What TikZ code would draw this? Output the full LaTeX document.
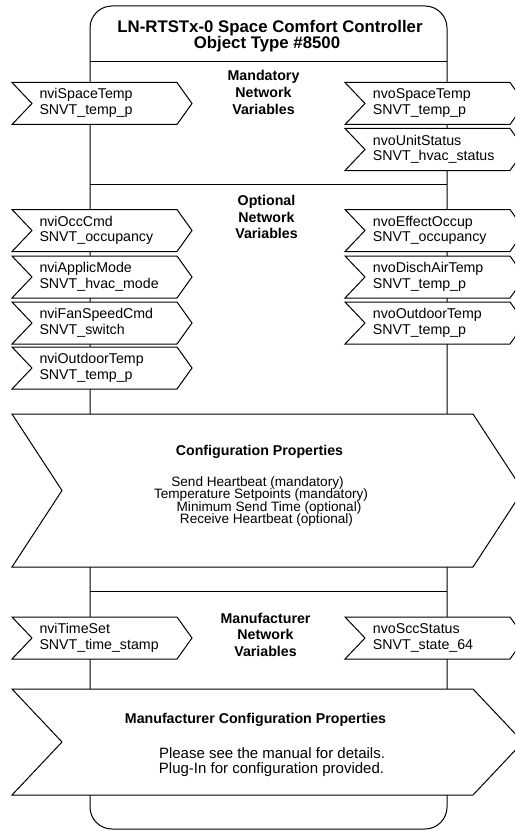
\documentclass[tikz,border=0pt]{standalone}
\usepackage{fontspec}
\setmainfont{Liberation Sans}
\usetikzlibrary{calc}
\newcommand\leftchev[1]{%
  \filldraw[chev] (12,#1) -- (177,#1) -- (192,#1+21) -- (177,#1+42) -- (12,#1+42) -- (32,#1+21) -- cycle;}
\newcommand\rightchev[1]{%
  \filldraw[chev] (345,#1) -- (510,#1) -- (525,#1+21) -- (510,#1+42) -- (345,#1+42) -- (365,#1+21) -- cycle;}
\newcommand\chevtext[5]{% name, x, top, line1, line2
  \node[lbl] (#1a) at (#2,#3+16.5) {#4};
  \node[lbl] (#1b) at (#2,#3+32) {#5};}
\begin{document}
\begin{tikzpicture}[x=1pt,y=-1pt,
  outline/.style={draw=black,line width=1pt},
  chev/.style={draw=black,line width=1pt,fill=white,line join=miter},
  lbl/.style={anchor=base west,inner sep=0pt,font=\fontsize{14.2}{15}\selectfont},
  hdr/.style={anchor=base,inner sep=0pt,font=\fontsize{14.2}{16}\selectfont\bfseries},
  ttl/.style={anchor=base,inner sep=0pt,font=\fontsize{16.8}{17}\selectfont\bfseries},
  cfg/.style={anchor=base,inner sep=0pt,font=\fontsize{13.6}{13}\selectfont},
  mcfg/.style={anchor=base,inner sep=0pt,font=\fontsize{15}{15}\selectfont},
]
\useasboundingbox (0,0) rectangle (515,832);
\begin{scope}
\clip (0,0) rectangle (515,832);
% main object box
\draw[outline,rounded corners=22pt] (90,6) rectangle (447,829);
% section separators
\coordinate (s1l) at (90,62);  \coordinate (s1r) at (447,62);
\coordinate (s2l) at (90,184); \coordinate (s2r) at (447,184);
\coordinate (s3l) at (90,591); \coordinate (s3r) at (447,591);
\draw[outline] (s1l) -- (s1r);
\draw[outline] (s2l) -- (s2r);
\draw[outline] (s3l) -- (s3r);
% big configuration chevrons
\filldraw[chev] (12,414) -- (473,414) -- (523,490.5) -- (473,567) -- (12,567) -- (62,490.5) -- cycle;
\filldraw[chev] (12,689) -- (473,689) -- (523,742) -- (473,795) -- (12,795) -- (62,742) -- cycle;
% small chevrons (inputs left, outputs right)
\leftchev{82.5}
\leftchev{209.5}
\leftchev{256}
\leftchev{302}
\leftchev{347}
\leftchev{617}
\rightchev{82.5}
\rightchev{128.5}
\rightchev{209.5}
\rightchev{256}
\rightchev{302}
\rightchev{617}
\end{scope}
% title
\node[ttl] (title1) at (270,32.3) {LN-RTSTx-0 Space Comfort Controller};
\node[ttl] (title2) at (267,49) {Object Type \#8500};
% section headers
\node[hdr] (mand1) at (263.5,81) {Mandatory};
\node[hdr] (mand2) at (263.5,98) {Network};
\node[hdr] (mand3) at (263.5,115) {Variables};
\node[hdr] (opt1) at (266.5,205) {Optional};
\node[hdr] (opt2) at (266.5,222) {Network};
\node[hdr] (opt3) at (266.5,238.5) {Variables};
\node[hdr] (mfr1) at (265.5,623) {Manufacturer};
\node[hdr] (mfr2) at (265.5,639.5) {Network};
\node[hdr] (mfr3) at (265.5,656) {Variables};
% chevron labels
\chevtext{i1}{39.3}{82.5}{nviSpaceTemp}{SNVT\_temp\_p}
\chevtext{i2}{39.3}{209.5}{nviOccCmd}{SNVT\_occupancy}
\chevtext{i3}{39.3}{256}{nviApplicMode}{SNVT\_hvac\_mode}
\chevtext{i4}{39.3}{302}{nviFanSpeedCmd}{SNVT\_switch}
\chevtext{i5}{39.3}{347}{nviOutdoorTemp}{SNVT\_temp\_p}
\chevtext{i6}{39.3}{617}{nviTimeSet}{SNVT\_time\_stamp}
\chevtext{o1}{372.7}{82.5}{nvoSpaceTemp}{SNVT\_temp\_p}
\chevtext{o2}{372.7}{128.5}{nvoUnitStatus}{SNVT\_hvac\_status}
\chevtext{o3}{372.7}{209.5}{nvoEffectOccup}{SNVT\_occupancy}
\chevtext{o4}{372.7}{256}{nvoDischAirTemp}{SNVT\_temp\_p}
\chevtext{o5}{372.7}{302}{nvoOutdoorTemp}{SNVT\_temp\_p}
\chevtext{o6}{372.7}{617}{nvoSccStatus}{SNVT\_state\_64}
% configuration properties
\node[hdr] (cph) at (259.5,455) {Configuration Properties};
\node[cfg] (cp1) at (257.5,486) {Send Heartbeat (mandatory)};
\node[cfg] (cp2) at (261,498.5) {Temperature Setpoints (mandatory)};
\node[cfg] (cp3) at (269,511) {Minimum Send Time (optional)};
\node[cfg] (cp4) at (266.5,523.3) {Receive Heartbeat (optional)};
% manufacturer configuration properties
\node[hdr] (mch) at (255.5,723) {Manufacturer Configuration Properties};
\node[mcfg] (mc1) at (272,758) {Please see the manual for details.};
\node[mcfg] (mc2) at (271.5,773) {Plug-In for configuration provided.};
\end{tikzpicture}
\end{document}
